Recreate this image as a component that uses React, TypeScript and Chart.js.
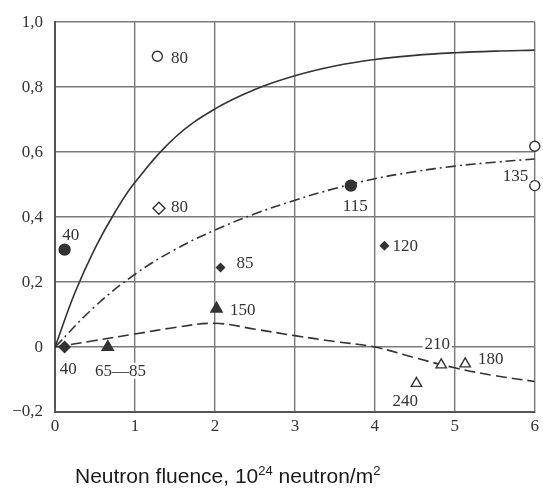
import React, { useEffect, useRef } from "react";
import { Chart, registerables } from "chart.js";
Chart.register(...registerables);

// Curves
const solidX = [0, 0.25, 0.5, 0.75, 1, 1.5, 2, 2.5, 3, 3.5, 4, 4.5, 5, 5.5, 6];
const solidY = [0, 0.168, 0.304, 0.415, 0.507, 0.645, 0.733, 0.793, 0.835, 0.865, 0.885, 0.898, 0.906, 0.911, 0.914];

const dashDotX = [0, 0.5, 1, 1.5, 2, 2.5, 3, 3.5, 4, 4.5, 5, 5.5, 6];
const dashDotY = [0, 0.125, 0.224, 0.3, 0.36, 0.41, 0.452, 0.488, 0.518, 0.54, 0.557, 0.569, 0.579];

const dashedX = [0, 0.5, 1, 1.5, 2, 2.5, 3, 3.5, 4, 4.5, 5, 5.5, 6];
const dashedY = [0, 0.02, 0.04, 0.06, 0.073, 0.055, 0.035, 0.017, 0, -0.033, -0.064, -0.088, -0.106];

// Markers
const filledCircles = [{ x: 0.12, y: 0.3 }, { x: 3.7, y: 0.497 }];
const openCircles = [{ x: 1.28, y: 0.895 }, { x: 6, y: 0.618 }, { x: 6, y: 0.497 }];
const openDiamonds = [{ x: 1.3, y: 0.427 }];
const filledDiamondsBig = [{ x: 0.12, y: 0 }];
const filledDiamondsSmall = [{ x: 2.07, y: 0.245 }, { x: 4.12, y: 0.312 }];
const filledTriangles = [{ x: 0.66, y: 0.0 }, { x: 2.02, y: 0.118 }];
const openTriangles = [{ x: 4.52, y: -0.112 }, { x: 4.83, y: -0.055 }, { x: 5.13, y: -0.052 }];

// Point annotations: text with anchor in data coordinates
const pointLabels = [
  { text: "80", x: 1.45, y: 0.89, align: "left" },
  { text: "80", x: 1.45, y: 0.433, align: "left" },
  { text: "40", x: 0.09, y: 0.345, align: "left" },
  { text: "40", x: 0.06, y: -0.067, align: "left" },
  { text: "65—85", x: 0.5, y: -0.073, align: "left" },
  { text: "85", x: 2.27, y: 0.26, align: "left" },
  { text: "150", x: 2.19, y: 0.115, align: "left" },
  { text: "115", x: 3.6, y: 0.436, align: "left" },
  { text: "120", x: 4.22, y: 0.312, align: "left" },
  { text: "135", x: 5.92, y: 0.527, align: "right" },
  { text: "210", x: 4.62, y: 0.01, align: "left" },
  { text: "180", x: 5.29, y: -0.036, align: "left" },
  { text: "240", x: 4.22, y: -0.164, align: "left" },
];

const xTicks = [0, 1, 2, 3, 4, 5, 6];
const yTickLabels = ["−0,2", "0", "0,2", "0,4", "0,6", "0,8", "1,0"];

const INK = "#333";
const GRID = "#7a7a7a";

function pts(xs: number[], ys: number[]) {
  return xs.map((x, i) => ({ x, y: ys[i] }));
}

export default function App() {
  const ref = useRef<HTMLCanvasElement | null>(null);
  useEffect(() => {
    document.body.style.margin = "0";
    const canvas = ref.current!;
    const labelPlugin = {
      id: "labels",
      afterDatasetsDraw(chart: any) {
        const ctx = chart.ctx;
        const xs = chart.scales.x;
        const ys = chart.scales.y;
        ctx.save();
        ctx.font = "17px 'Liberation Serif'";
        ctx.textBaseline = "middle";
        for (const l of pointLabels) {
          const px = xs.getPixelForValue(l.x);
          const py = ys.getPixelForValue(l.y);
          const w = ctx.measureText(l.text).width;
          const left = l.align === "right" ? px - w : px;
          ctx.fillStyle = "#fff";
          ctx.fillRect(left - 2, py - 8, w + 4, 16);
          ctx.fillStyle = INK;
          ctx.textAlign = "left";
          ctx.fillText(l.text, left, py + 1);
        }
        ctx.restore();
      },
      afterDraw(chart: any) {
        const ctx = chart.ctx;
        ctx.save();
        ctx.fillStyle = "#1a1a1a";
        ctx.textBaseline = "alphabetic";
        ctx.textAlign = "left";
        let x = 75;
        const base = 483;
        const parts: [string, boolean][] = [
          ["Neutron fluence, 10", false],
          ["24", true],
          [" neutron/m", false],
          ["2", true],
        ];
        for (const [t, sup] of parts) {
          ctx.font = sup ? "13px 'Liberation Sans'" : "21px 'Liberation Sans'";
          ctx.fillText(t, x, sup ? base - 8 : base);
          x += ctx.measureText(t).width;
        }
        ctx.restore();
      },
    };

    const lineDs = (data: any, dash: number[]) => ({
      type: "line",
      data,
      borderColor: INK,
      borderWidth: 1.6,
      borderDash: dash,
      pointRadius: 0,
      fill: false,
      tension: 0.4,
      order: 2,
    });
    const markerDs = (data: any, style: string, r: number, filled: boolean) => ({
      type: "scatter",
      data,
      pointStyle: style,
      pointRadius: r,
      pointBackgroundColor: filled ? INK : "#fff",
      pointBorderColor: INK,
      pointBorderWidth: 1.4,
      clip: false,
      order: 1,
    });

    const chart = new Chart(canvas, {
      type: "scatter",
      data: {
        datasets: [
          lineDs(pts(solidX, solidY), []),
          lineDs(pts(dashDotX, dashDotY), [10, 4, 2, 4]),
          lineDs(pts(dashedX, dashedY), [11, 5]),
          markerDs(filledCircles, "circle", 5.5, true),
          markerDs(openCircles, "circle", 5, false),
          markerDs(openDiamonds, "rectRot", 6, false),
          markerDs(filledDiamondsBig, "rectRot", 5.5, true),
          markerDs(filledDiamondsSmall, "rectRot", 4, true),
          markerDs(filledTriangles, "triangle", 6.5, true),
          markerDs(openTriangles, "triangle", 6, false),
        ] as any,
      },
      options: {
        responsive: false,
        animation: false,
        layout: { padding: { left: 0, right: 5, top: 15, bottom: 0 } },
        plugins: { legend: { display: false }, tooltip: { enabled: false } },
        scales: {
          x: {
            type: "linear",
            min: 0,
            max: 6,
            afterBuildTicks: (s: any) => {
              s.ticks = xTicks.map((v) => ({ value: v }));
            },
            afterFit: (s: any) => {
              s.height = 79;
            },
            ticks: {
              color: INK,
              font: { family: "'Liberation Serif'", size: 17 },
              padding: 4,
              maxRotation: 0,
              callback: (v: any) => String(v),
            },
            grid: { color: GRID, lineWidth: 1.4, drawTicks: false },
            border: { color: "#555", width: 2 },
          },
          y: {
            type: "linear",
            min: -0.2,
            max: 1.0,
            afterBuildTicks: (s: any) => {
              s.ticks = yTickLabels.map((_, i) => ({ value: -0.2 + i * 0.2 }));
            },
            afterFit: (s: any) => {
              s.width = 55;
            },
            ticks: {
              color: INK,
              font: { family: "'Liberation Serif'", size: 17 },
              padding: 12,
              callback: (_v: any, i: number) => yTickLabels[i],
            },
            grid: { color: GRID, lineWidth: 1.4, drawTicks: false },
            border: { color: "#555", width: 2 },
          },
        },
      } as any,
      plugins: [labelPlugin],
    });
    return () => chart.destroy();
  }, []);
  return <canvas ref={ref} width={543} height={491} style={{ display: "block" }} />;
}
